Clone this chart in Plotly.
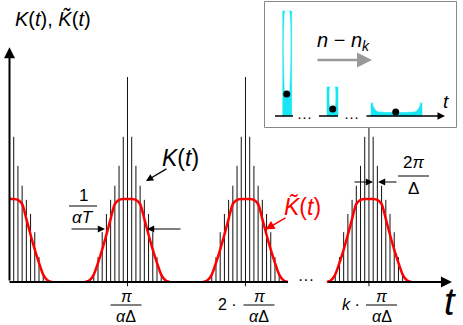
import plotly.graph_objects as go

W, H = 463, 325

# K(t): spike height by |offset| from the centre of a cluster (offset 0 is the tall one)
spike_heights = [2.47, 1.75, 1.40, 1.16, 0.99, 0.82, 0.60, 0.30, 0.11]
# cluster centres, in units of the spike spacing 2pi/Delta
cluster_centres = [0, 28, 56, 85.3]
# K~(t): smooth envelope sampled at offsets from the cluster centre
env_offsets = [0, 1, 2, 3, 4, 5, 6, 7, 8, 9, 10]
env_values = [1.0, 1.0, 0.99, 0.94, 0.76, 0.57, 0.39, 0.23, 0.09, 0.02, 0.0]
tick_prefix = ["", "", "2 ·", "<i>k</i> ·"]

# inset: three wells (left, right, top, inner floor) and the particle in each
well_left = [20.7, 65, 109]
well_right = [29.7, 76, 160]
well_top = [119, 43, 27]
well_floor = [36, 21, 19]
dot_x = [24.7, 70.7, 133.7]
dot_y = [36, 21, 18]

FONT = "Liberation Sans, Arial, sans-serif"
CYAN = "#16e6f3"


def px(x):
    return x / W


def py(y):
    return 1 - y / H


fig = go.Figure()

# spikes of K(t)
sx, sy = [], []
n = len(spike_heights)
for i, c in enumerate(cluster_centres):
    for o in range(-(n - 1), n):
        if i == 0 and o <= 0:
            continue
        bottom = -0.05 if o == 0 else 0
        sx += [c + o, c + o, None]
        sy += [bottom, spike_heights[abs(o)], None]
fig.add_trace(go.Scatter(x=sx, y=sy, mode="lines", line=dict(color="#111", width=1),
                         hoverinfo="skip", showlegend=False))

# envelope K~(t)
for i, c in enumerate(cluster_centres):
    if i == 0:
        xs = [c + o for o in env_offsets]
        ys = list(env_values)
    else:
        xs = [c - o for o in reversed(env_offsets)] + [c + o for o in env_offsets[1:]]
        ys = list(reversed(env_values)) + env_values[1:]
    fig.add_trace(go.Scatter(x=xs, y=ys, mode="lines", line=dict(color="#ff0000", width=2.5, shape="spline", smoothing=0.7),
                             hoverinfo="skip", showlegend=False))

# first part of the t axis (broken by the ellipsis)
fig.add_trace(go.Scatter(x=[0, 66.1], y=[0, 0], mode="lines", line=dict(color="black", width=2),
                         hoverinfo="skip", showlegend=False))

# ---- inset ----
fig.add_trace(go.Scatter(x=[2.5, 194.5, 194.5, 2.5, 2.5], y=[2.5, 2.5, 128.5, 128.5, 2.5],
                         fill="toself", fillcolor="white", mode="lines", line=dict(color="#888", width=1),
                         xaxis="x2", yaxis="y2", hoverinfo="skip", showlegend=False))
for k in range(3):
    l, r, t, f = well_left[k], well_right[k], well_top[k], well_floor[k]
    fig.add_trace(go.Scatter(x=[l, r, r, l, l], y=[14, 14, t, t, 14], fill="toself", fillcolor=CYAN,
                             mode="lines", line=dict(color=CYAN, width=0.5),
                             xaxis="x2", yaxis="y2", hoverinfo="skip", showlegend=False))
    wall = (r - l) * (0.3 if k < 2 else 0.04)
    il, ir = l + wall, r - wall
    if k < 2:
        ix = [il, il, (il + ir) / 2, ir, ir, il]
        iy = [t, f + 1, f - 1, f + 1, t, t]
    else:
        ix = [il, il + 1, il + 4, ir - 4, ir - 1, ir, il]
        iy = [t, f + 4, f, f, f + 4, t, t]
    fig.add_trace(go.Scatter(x=ix, y=iy, fill="toself", fillcolor="white", mode="lines",
                             line=dict(color="white", width=0.5, shape="spline", smoothing=0.5),
                             xaxis="x2", yaxis="y2", hoverinfo="skip", showlegend=False))
fig.add_trace(go.Scatter(x=[13, 31, None, 57, 76], y=[14, 14, None, 14, 14], mode="lines",
                         line=dict(color="black", width=1.5), xaxis="x2", yaxis="y2",
                         hoverinfo="skip", showlegend=False))
fig.add_trace(go.Scatter(x=dot_x, y=dot_y, mode="markers", marker=dict(color="black", size=7),
                         xaxis="x2", yaxis="y2", hoverinfo="skip", showlegend=False))

ann = []
shapes = []

# axis arrows
ann.append(dict(x=105, y=0, ax=75.3, ay=0, xref="x", yref="y", axref="x", ayref="y", text="",
                showarrow=True, arrowhead=2, arrowsize=1.1, arrowwidth=2, arrowcolor="black", standoff=0))
ann.append(dict(x=0, y=2.83, ax=0, ay=0, xref="x", yref="y", axref="x", ayref="y", text="",
                showarrow=True, arrowhead=2, arrowsize=1.1, arrowwidth=2, arrowcolor="black", standoff=0))
ann.append(dict(x=183, y=14, ax=103, ay=14, xref="x2", yref="y2", axref="x2", ayref="y2", text="",
                showarrow=True, arrowhead=2, arrowsize=1, arrowwidth=1.5, arrowcolor="black", standoff=0))
ann.append(dict(x=110, y=70, ax=54, ay=70, xref="x2", yref="y2", axref="x2", ayref="y2", text="",
                showarrow=True, arrowhead=2, arrowsize=1.2, arrowwidth=2.5, arrowcolor="#999", standoff=0))


def label(x, y, text, size, color="black", xanchor="center"):
    ann.append(dict(x=px(x), y=py(y), xref="paper", yref="paper", text=text, showarrow=False,
                    xanchor=xanchor, yanchor="middle", font=dict(family=FONT, size=size, color=color)))


def frac(xc, ybar, num, den, w, size, dy_num, dy_den, color="black"):
    label(xc, ybar - dy_num, num, size, color)
    label(xc, ybar + dy_den, den, size, color)
    shapes.append(dict(type="line", xref="paper", yref="paper", x0=px(xc - w / 2), x1=px(xc + w / 2),
                       y0=py(ybar), y1=py(ybar), line=dict(color=color, width=1)))


def arrow(x, y, x_from, y_from, color="black", width=1.2):
    ann.append(dict(x=px(x), y=py(y), xref="paper", yref="paper", ax=x_from - x, ay=y_from - y,
                    text="", showarrow=True, arrowhead=2, arrowsize=1.2, arrowwidth=width,
                    arrowcolor=color, standoff=0))


# axis titles
label(53, 19, "<i>K</i>(<i>t</i>), <i>K̃</i>(<i>t</i>)", 20)
label(450, 302, "<i>t</i>", 38)
label(306, 279, "···", 16)

# tick labels at k * pi / (alpha Delta)
frac_centre = [None, 126, 259, 381.5]
pre_centre = [None, None, 227, 351]
for i in range(1, len(cluster_centres)):
    frac(frac_centre[i], 305, "<i>π</i>", "<i>α</i>Δ", 31, 16, 9, 11)
    if tick_prefix[i]:
        label(pre_centre[i], 304, tick_prefix[i], 16)

# K(t) annotation
label(180, 158, "<i>K</i>(<i>t</i>)", 23)
arrow(146, 181, 168, 168)

# width 1/(alpha T)
frac(83, 206, "1", "<i>αT</i>", 28, 17, 11, 11)
arrow(105, 229, 70, 229)
arrow(147, 229, 182, 229)

# K~(t) annotation
label(302, 207, "<i>K̃</i>(<i>t</i>)", 23, color="#ff0000")
arrow(265.5, 229.5, 287, 217, color="#ff0000", width=1.5)

# spacing 2pi/Delta
frac(413.5, 176, "2<i>π</i>", "Δ", 31, 17, 13, 12)
arrow(373, 182, 353, 182)
arrow(378, 182, 398, 182)

# inset texts
ann.append(dict(x=81, y=89, xref="x2", yref="y2", text="<i>n</i> − <i>n<sub>k</sub></i>", showarrow=False,
                font=dict(family=FONT, size=20, color="black")))
ann.append(dict(x=184, y=29, xref="x2", yref="y2", text="<i>t</i>", showarrow=False,
                font=dict(family=FONT, size=19, color="black")))
ann.append(dict(x=42, y=14, xref="x2", yref="y2", text="···", showarrow=False,
                font=dict(family=FONT, size=15, color="black")))
ann.append(dict(x=89, y=14, xref="x2", yref="y2", text="···", showarrow=False,
                font=dict(family=FONT, size=15, color="black")))

fig.update_layout(
    width=W, height=H,
    margin=dict(l=0, r=0, t=0, b=0),
    paper_bgcolor="white", plot_bgcolor="rgba(0,0,0,0)",
    font=dict(family=FONT),
    xaxis=dict(range=[-2.254, 107.62], visible=False, domain=[0, 1]),
    yaxis=dict(range=[-0.518, 3.398], visible=False, domain=[0, 1]),
    xaxis2=dict(range=[0, 197], visible=False, domain=[262 / W, 459 / W], anchor="y2"),
    yaxis2=dict(range=[0, 130], visible=False, domain=[1 - 130 / H, 1], anchor="x2"),
    annotations=ann,
    shapes=shapes,
    showlegend=False,
)

# the page body has a default 8px margin; drop it so the figure sits at the window corner
fig.write_html("out.html", config={"displayModeBar": False},
               post_script="document.body.style.margin='0px';")
